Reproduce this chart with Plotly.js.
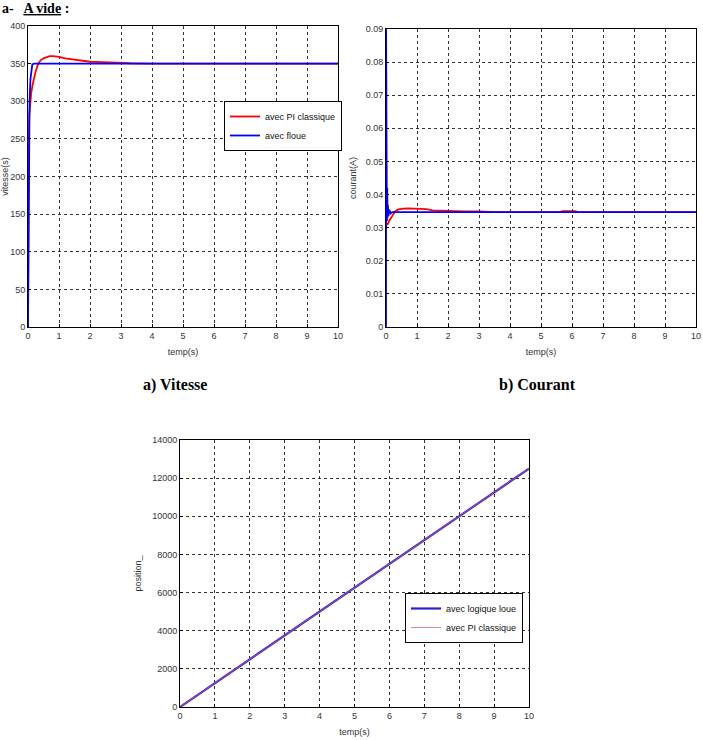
<!DOCTYPE html>
<html>
<head>
<meta charset="utf-8">
<script src="https://cdn.plot.ly/plotly-3.0.1.min.js"></script>
<style>html,body{margin:0;padding:0;background:#fff;}#chart{width:703px;height:740px;}</style>
</head>
<body>
<div id="chart"></div>
<script>
// ---- Vitesse (a) ----
const vitPI_t   = [0, 0.005, 0.02, 0.04, 0.07, 0.1, 0.15, 0.2, 0.25, 0.32, 0.4, 0.5, 0.6, 0.7, 0.8, 1.0, 1.2, 1.5, 1.8, 2.0, 2.4, 2.8, 3.3, 4, 10];
const vitPI_v   = [0, 175, 240, 280, 300, 310, 322, 332, 340, 349, 354, 357, 359, 360, 360, 359, 357, 355, 353, 352.5, 352, 351, 350.5, 350, 350];
const vitFL_t   = [0, 0.01, 0.03, 0.05, 0.08, 0.12, 0.14, 0.2, 10];
const vitFL_v   = [0, 60, 260, 300, 330, 345, 349, 350, 350];
// ---- Courant (b) ----
const curFL_t   = [0, 0.003, 0.006, 0.01, 0.015, 0.02, 0.03, 0.04, 0.05, 0.06, 0.08, 0.1, 0.15, 0.2, 10];
const curFL_i   = [0, 0.09, 0.02, 0.067, 0.03, 0.05, 0.032, 0.042, 0.033, 0.037, 0.0335, 0.0355, 0.0343, 0.0347, 0.0347];
const curPI_t   = [0.02, 0.05, 0.1, 0.2, 0.3, 0.4, 0.5, 0.7, 1.0, 1.3, 1.5, 2.0, 2.5, 3.0, 3.2, 3.5, 5.6, 5.7, 6.1, 6.2, 10];
const curPI_i   = [0.031, 0.031, 0.032, 0.0335, 0.035, 0.0355, 0.0357, 0.0358, 0.0358, 0.0356, 0.0352, 0.035, 0.0349, 0.0349, 0.0348, 0.0347, 0.0347, 0.035, 0.035, 0.0347, 0.0347];
// ---- Position ----
const pos_t     = [0, 1, 2, 3, 4, 5, 6, 7, 8, 9, 10];
const posFL_p   = [0, 1250, 2500, 3750, 5000, 6250, 7500, 8750, 10000, 11250, 12500];
const posPI_p   = [0, 1250, 2500, 3750, 5000, 6250, 7500, 8750, 10000, 11250, 12500];
// ---- labels ----
const xTicks    = [0, 1, 2, 3, 4, 5, 6, 7, 8, 9, 10];
const vitTicks  = [0, 50, 100, 150, 200, 250, 300, 350, 400];
const curTicks  = [0, 0.01, 0.02, 0.03, 0.04, 0.05, 0.06, 0.07, 0.08, 0.09];
const curTickText = ['0', '0.01', '0.02', '0.03', '0.04', '0.05', '0.06', '0.07', '0.08', '0.09'];
const posTicks  = [0, 2000, 4000, 6000, 8000, 10000, 12000, 14000];

const W = 703, H = 740;
const px = (a, b) => [a / W, b / W];
const py = (top, bot) => [1 - bot / H, 1 - top / H];
const sans = 'Liberation Sans Narrow, Liberation Sans, Arial';
const tickFont = {family: sans, size: 9, color: '#333'};
const lblFont = {family: sans, size: 9, color: '#333'};

function xax(dom, anchor, standoff) {
  return {domain: dom, anchor: anchor, range: [0, 10], tickvals: xTicks, ticktext: xTicks.map(String),
    showgrid: true, gridcolor: '#333', griddash: 'dot', gridwidth: 1, zeroline: false,
    showline: true, linecolor: '#000', linewidth: 1, mirror: true, ticks: 'inside', ticklen: 3, tickcolor: '#000',
    tickfont: tickFont, automargin: false,
    title: {text: 'temp(s)', font: lblFont, standoff: standoff}};
}
function yax(dom, anchor, range, tv, tt, title, standoff) {
  return {domain: dom, anchor: anchor, range: range, tickvals: tv, ticktext: tt,
    showgrid: true, gridcolor: '#333', griddash: 'dot', gridwidth: 1, zeroline: false,
    showline: true, linecolor: '#000', linewidth: 1, mirror: true, ticks: 'inside', ticklen: 3, tickcolor: '#000',
    tickfont: tickFont, automargin: false,
    title: {text: title, font: lblFont, standoff: standoff}};
}

const traces = [
  {x: vitPI_t, y: vitPI_v, xaxis: 'x', yaxis: 'y', mode: 'lines', name: 'avec PI classique',
   line: {color: '#ff0000', width: 1.8}, legend: 'legend'},
  {x: vitFL_t, y: vitFL_v, xaxis: 'x', yaxis: 'y', mode: 'lines', name: 'avec floue',
   line: {color: '#0000ff', width: 1.8}, legend: 'legend'},
  {x: curPI_t, y: curPI_i, xaxis: 'x2', yaxis: 'y2', mode: 'lines', name: 'PI',
   line: {color: '#ff0000', width: 1.8}, showlegend: false},
  {x: curFL_t, y: curFL_i, xaxis: 'x2', yaxis: 'y2', mode: 'lines', name: 'floue',
   line: {color: '#0000ff', width: 1.8}, showlegend: false},
  {x: pos_t, y: posFL_p, xaxis: 'x3', yaxis: 'y3', mode: 'lines', name: 'avec logique loue',
   line: {color: '#2a1fd0', width: 2.2}, legend: 'legend2'},
  {x: pos_t, y: posPI_p, xaxis: 'x3', yaxis: 'y3', mode: 'lines', name: 'avec PI classique',
   line: {color: '#e0607a', width: 1}, opacity: 0.75, legend: 'legend2'}
];

const serif = 'Liberation Serif, Times New Roman, serif';
const legFont = {family: sans, size: 9, color: '#111'};
const layout = {
  width: W, height: H, margin: {l: 0, r: 0, t: 0, b: 0},
  paper_bgcolor: '#fff', plot_bgcolor: '#fff', showlegend: true,
  xaxis: xax(px(28, 338), 'y', 8),
  yaxis: yax(py(26, 327), 'x', [0, 400], vitTicks, vitTicks.map(String), 'vitesse(s)', 6),
  xaxis2: xax(px(386, 696), 'y2', 8),
  yaxis2: yax(py(29, 327), 'x2', [0, 0.09], curTicks, curTickText, 'courant(A)', 7),
  xaxis3: xax(px(180, 529), 'y3', 8),
  yaxis3: yax(py(440, 707), 'x3', [0, 14000], posTicks, posTicks.map(String), 'position_', 9),
  legend: {x: 224 / W, y: 1 - 101 / H, xanchor: 'left', yanchor: 'top', bgcolor: '#fff',
    bordercolor: '#000', borderwidth: 1, font: legFont, tracegroupgap: 0, itemwidth: 30},
  legend2: {x: 405 / W, y: 1 - 593 / H, xanchor: 'left', yanchor: 'top', bgcolor: '#fff',
    bordercolor: '#000', borderwidth: 1, font: legFont, tracegroupgap: 0, itemwidth: 30},
  annotations: [
    {text: '<b>a-   <u>A vide</u> :</b>', xref: 'paper', yref: 'paper', x: 0, y: 1 + 1 / H,
     xanchor: 'left', yanchor: 'top', showarrow: false, font: {family: serif, size: 14, color: '#000'}},
    {text: '<b>a) Vitesse</b>', xref: 'paper', yref: 'paper', x: 175 / W, y: 1 - 385 / H,
     xanchor: 'center', yanchor: 'middle', showarrow: false, font: {family: serif, size: 16, color: '#000'}},
    {text: '<b>b) Courant</b>', xref: 'paper', yref: 'paper', x: 537 / W, y: 1 - 385 / H,
     xanchor: 'center', yanchor: 'middle', showarrow: false, font: {family: serif, size: 16, color: '#000'}}
  ]
};

Plotly.newPlot('chart', traces, layout, {displayModeBar: false, staticPlot: true});
</script>
</body>
</html>
